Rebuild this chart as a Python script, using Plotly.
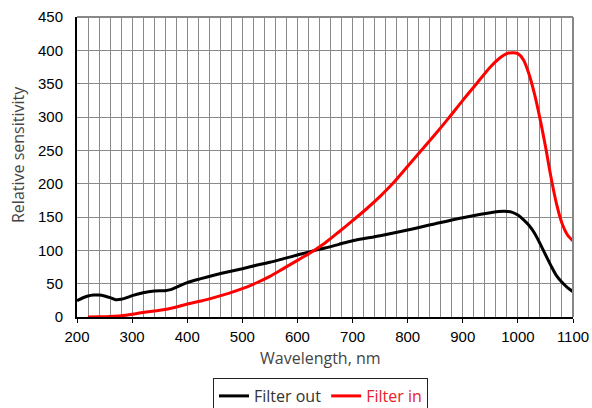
import plotly.graph_objects as go

# Filter out (black)
wl_out = [200, 210, 220, 230, 240, 250, 260, 270, 280, 290, 300, 320, 340, 360, 370, 380,
          400, 425, 450, 475, 500, 525, 550, 575, 600, 625, 650, 675, 700, 750, 800, 850,
          900, 950, 975, 990, 1000, 1010, 1020, 1030, 1040, 1050, 1060, 1070, 1080, 1090, 1100]
sens_out = [24.5, 28.5, 31.5, 33, 33, 31.5, 29, 26, 26.5, 29, 32, 36.5, 39, 39.5, 41, 44.5,
            51.5, 57.5, 63, 68, 72.5, 77.5, 82, 87.5, 93, 98.5, 103.5, 109, 114.5, 122, 130.5, 140,
            149, 156.5, 158.5, 157, 153, 146, 137.5, 126, 110.5, 93.5, 77, 62, 52, 44, 38]

# Filter in (red)
wl_in = [220, 240, 260, 280, 300, 325, 350, 375, 400, 425, 450, 475, 500, 525, 550, 575,
         600, 625, 650, 675, 700, 725, 750, 775, 800, 825, 850, 875, 900, 925, 950, 965,
         980, 990, 1000, 1010, 1020, 1030, 1040, 1050, 1060, 1070, 1080, 1090, 1100]
sens_in = [0, 0.3, 0.8, 1.8, 4, 7.5, 10, 14, 19.5, 24, 29.5, 35.5, 42.5, 51, 61, 73,
           85, 97, 111, 127.5, 144.5, 162, 181, 202, 226, 250, 274, 299, 325, 350, 375, 387,
           395, 396.5, 395, 386, 365, 335, 298, 256, 210, 170, 140.5, 123, 114]

x_title = "Wavelength, nm"
y_title = "Relative sensitivity"

fig = go.Figure()
fig.add_trace(go.Scatter(x=wl_out, y=sens_out, mode="lines", name="Filter out",
                         line=dict(color="black", width=3, shape="spline", smoothing=0.8)))
fig.add_trace(go.Scatter(x=wl_in, y=sens_in, mode="lines",
                         name="<span style='color:#e8202a'>Filter in</span>",
                         line=dict(color="#ff0000", width=3, shape="spline", smoothing=0.8)))

grid = "#8a8a8a"
fig.update_layout(
    width=592, height=408,
    margin=dict(l=77, r=19, t=17, b=91, autoexpand=False),
    paper_bgcolor="white", plot_bgcolor="white",
    font=dict(family="Liberation Sans, Arial", size=15, color="black"),
    showlegend=True,
    legend=dict(orientation="h", xref="paper", yref="paper",
                x=(320.5 - 77) / 496, xanchor="center", y=-61 / 300, yanchor="top",
                bordercolor="#222", borderwidth=1, bgcolor="white",
                font=dict(family="Open Sans", size=16, color="#333"),
                itemwidth=30, tracegroupgap=0),
    xaxis=dict(range=[200, 1100], dtick=100, tick0=200, showgrid=True, gridcolor=grid, gridwidth=1,
               minor=dict(dtick=20, showgrid=True, gridcolor=grid, gridwidth=1),
               showline=True, linecolor="black", linewidth=2, zeroline=False, automargin=False,
               ticks="outside", ticklen=4, tickcolor="black", ticklabelstandoff=1),
    yaxis=dict(range=[0, 450], dtick=50, showgrid=True, gridcolor=grid, gridwidth=1,
               showline=True, linecolor="black", linewidth=2, zeroline=False, automargin=False,
               ticks="", ticklabelstandoff=9),
    shapes=[
        dict(type="line", xref="paper", yref="paper", x0=0, x1=1, y0=1, y1=1,
             line=dict(color="#888", width=2)),
        dict(type="line", xref="paper", yref="paper", x0=1, x1=1, y0=0, y1=1,
             line=dict(color="#888", width=2)),
    ],
    annotations=[
        dict(text=x_title, xref="paper", yref="paper", x=(320.5 - 77) / 496, y=-41 / 300,
             xanchor="center", yanchor="middle", showarrow=False,
             font=dict(family="Open Sans", size=16, color="#444")),
        dict(text=y_title, xref="paper", yref="paper", x=-59 / 496, y=(317 - 155) / 300,
             xanchor="center", yanchor="middle", textangle=-90, showarrow=False,
             font=dict(family="Open Sans", size=16, color="#444")),
    ],
)

fig.write_html("out.html", config={"displayModeBar": False},
               post_script="document.body.style.margin='0';document.body.style.overflow='hidden';")
